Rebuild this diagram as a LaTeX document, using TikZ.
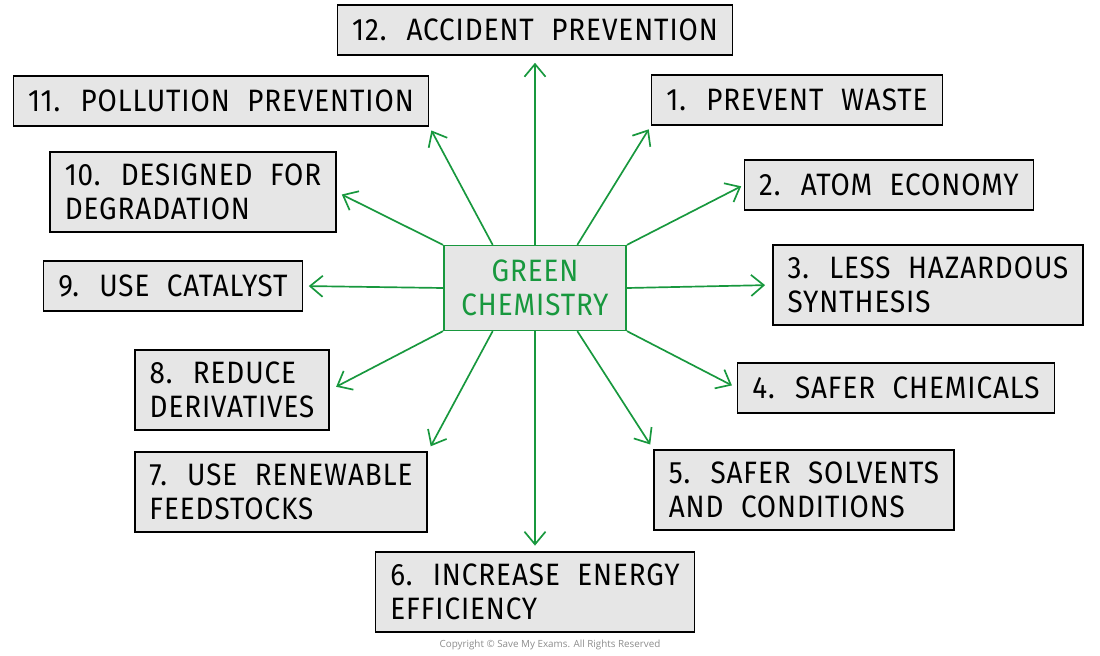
\documentclass[tikz,border=0pt]{standalone}
\usepackage{fontspec}
\newfontfamily\handfont{Fira Sans}[FakeStretch=0.9, LetterSpace=3, WordSpace=2.1]
\usetikzlibrary{arrows.meta, positioning, calc}
\definecolor{gcol}{RGB}{24,152,62}
\definecolor{boxgrey}{RGB}{230,230,230}
\begin{document}
\begin{tikzpicture}[x=0.025cm, y=-0.025cm,
  box/.style={draw=black, fill=boxgrey, line width=1.1pt, align=left, inner xsep=10.5pt, inner ysep=8.6pt,
    minimum height=35.5pt, font=\handfont\fontsize{22}{24}\selectfont},
  centre/.style={draw=gcol, fill=boxgrey, line width=1.1pt, align=center, text=gcol, inner xsep=6pt, inner ysep=4pt,
    font=\handfont\fontsize{22}{24}\selectfont},
  arr/.style={draw=gcol, line width=1.2pt, -{Straight Barb[length=9pt, width=15pt]}}]
  \useasboundingbox (0,0) rectangle (1100,656);
  % centre
  \node[centre, minimum width=183*0.709pt, minimum height=85*0.709pt] (g) at (535,288) {GREEN\\CHEMISTRY};
  % the twelve principles
  \node[box] (n12) at (535,30) {12. ACCIDENT PREVENTION};
  \node[box] (n11) at (221,101) {11. POLLUTION PREVENTION};
  \node[box] (n1) at (797,100) {1. PREVENT WASTE};
  \node[box] (n10) at (193,192) {10. DESIGNED FOR\\DEGRADATION};
  \node[box] (n2) at (889,185) {2. ATOM ECONOMY};
  \node[box] (n9) at (173,286) {9. USE CATALYST};
  \node[box] (n3) at (928,285) {3. LESS HAZARDOUS\\SYNTHESIS};
  \node[box] (n8) at (232,390) {8. REDUCE\\DERIVATIVES};
  \node[box] (n4) at (896,388) {4. SAFER CHEMICALS};
  \node[box] (n7) at (281,492) {7. USE RENEWABLE\\FEEDSTOCKS};
  \node[box] (n5) at (804,490) {5. SAFER SOLVENTS\\AND CONDITIONS};
  \node[box] (n6) at (535,592) {6. INCREASE ENERGY\\EFFICIENCY};
  % arrows
  \draw[arr, shorten >=5pt] (g.north) -- (n12.south);
  \draw[arr, shorten >=3pt] ($(g.north west)!0.73!(g.north east)$) -- (n1.south west);
  \draw[arr, shorten >=3pt] ($(g.north west)!0.27!(g.north east)$) -- (n11.south east);
  \draw[arr, shorten >=2pt] (g.north east) -- (n2.west);
  \draw[arr, shorten >=4pt] (g.north west) -- (n10.east);
  \draw[arr, shorten >=5pt] (g.east) -- (n3.west);
  \draw[arr, shorten >=4pt] (g.west) -- (n9.east);
  \draw[arr, shorten >=4pt] (g.south east) -- (n4.west);
  \draw[arr, shorten >=5pt] (g.south west) -- (n8.east);
  \draw[arr, shorten >=4pt] ($(g.south west)!0.73!(g.south east)$) -- (n5.north west);
  \draw[arr, shorten >=4pt] ($(g.south west)!0.27!(g.south east)$) -- (n7.north east);
  \draw[arr, shorten >=4pt] (g.south) -- (n6.north);
  % copyright
  \node[text=black!45, font=\fontspec{Open Sans}\fontsize{7}{8}\selectfont] (copy) at (550,645) {Copyright \textcopyright{} Save My Exams. All Rights Reserved};
\end{tikzpicture}
\end{document}
